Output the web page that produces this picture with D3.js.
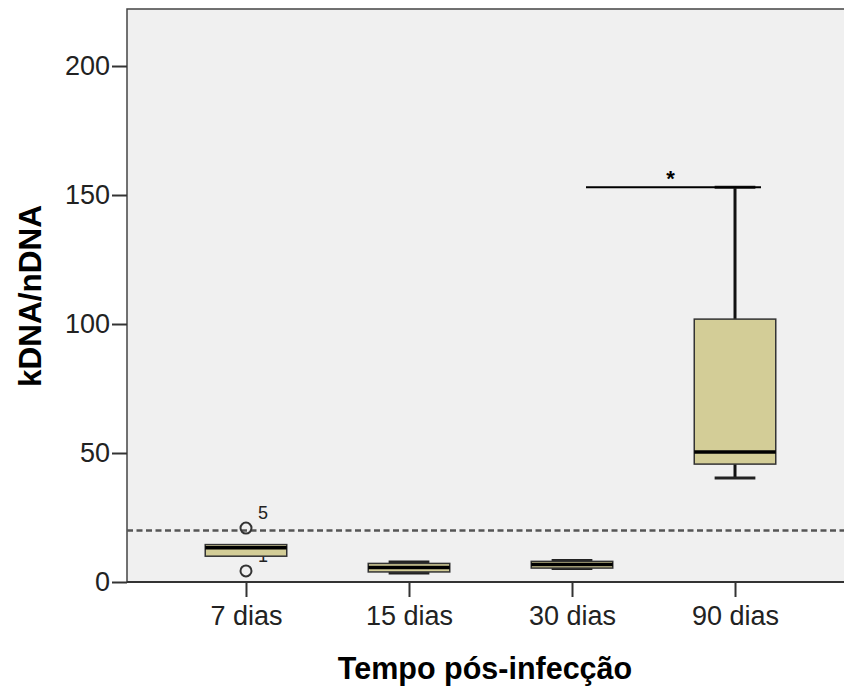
<!DOCTYPE html>
<html>
<head>
<meta charset="utf-8">
<script src="https://cdn.jsdelivr.net/npm/d3@7"></script>
<style>
  body { margin: 0; background: #fff; }
  text { font-family: "Liberation Sans", Arial, sans-serif; }
</style>
</head>
<body>
<div id="chart"></div>
<script>
var categories = ["7 dias", "15 dias", "30 dias", "90 dias"];
var whiskerLow = [10, 3.5, 5.2, 40.3];
var q1 = [10, 3.9, 5.4, 45.7];
var median = [13.3, 5.6, 6.8, 50.4];
var q3 = [14.5, 7.2, 8.0, 101.9];
var whiskerHigh = [14.5, 7.8, 8.3, 153];
var outlierCat = ["7 dias", "7 dias"];
var outlierVal = [20.9, 4.3];
var outlierLabel = ["5", "1"];
var yTicks = [0, 50, 100, 150, 200];
var refValue = 20;
var sigValue = 153;

var W = 844, H = 688;
var margin = {top: 9, right: -10, bottom: 106, left: 127};
var width = W - margin.left - margin.right, height = H - margin.top - margin.bottom;

var svg = d3.select('#chart').append('svg')
    .attr('width', W).attr('height', H);

var graph = svg.append('g')
    .attr('transform', 'translate(' + margin.left + ', ' + margin.top + ')');

var yS = d3.scaleLinear().domain([0, 222.1]).range([height, 0]);
var xS = d3.scalePoint().domain(categories).range([0, width]).padding(0.73);
var step = xS.step(), boxW = step * 0.5, capW = step * 0.25;

graph.append('rect')
    .attr('width', width).attr('height', height)
    .attr('fill', '#f0f0f0').attr('stroke', '#444').attr('stroke-width', 1.5);

// reference line
graph.append('line')
    .attr('x1', 0).attr('x2', width)
    .attr('y1', yS(refValue)).attr('y2', yS(refValue))
    .attr('stroke', '#555').attr('stroke-width', 2.5).attr('stroke-dasharray', '6,3.5');

// outlier labels (drawn under the boxes)
graph.selectAll('.olabel').data(outlierVal).enter().append('text')
    .attr('x', function (d, i) { return xS(outlierCat[i]) + 17 })
    .attr('y', function (d) { return yS(d) - 9 })
    .attr('text-anchor', 'middle')
    .attr('font-size', 18).attr('fill', '#222')
    .text(function (d, i) { return outlierLabel[i] });

var boxes = graph.selectAll('.box').data(categories).enter().append('g');

// whiskers
boxes.each(function (c, i) {
    var g = d3.select(this), cx = xS(c);
    [[whiskerLow[i], q1[i]], [whiskerHigh[i], q3[i]]].forEach(function (p) {
        if (p[0] === p[1]) return;
        g.append('line').attr('x1', cx).attr('x2', cx)
            .attr('y1', yS(p[0])).attr('y2', yS(p[1]))
            .attr('stroke', '#111').attr('stroke-width', 3);
        g.append('line').attr('x1', cx - capW / 2).attr('x2', cx + capW / 2)
            .attr('y1', yS(p[0])).attr('y2', yS(p[0]))
            .attr('stroke', '#222').attr('stroke-width', 3);
    });
});

boxes.append('rect')
    .attr('x', function (c) { return xS(c) - boxW / 2 })
    .attr('width', boxW)
    .attr('y', function (c, i) { return yS(q3[i]) })
    .attr('height', function (c, i) { return yS(q1[i]) - yS(q3[i]) })
    .attr('fill', '#d3cd97').attr('stroke', '#333').attr('stroke-width', 1.5);

boxes.append('line')
    .attr('x1', function (c) { return xS(c) - boxW / 2 })
    .attr('x2', function (c) { return xS(c) + boxW / 2 })
    .attr('y1', function (c, i) { return yS(median[i]) })
    .attr('y2', function (c, i) { return yS(median[i]) })
    .attr('stroke', '#000').attr('stroke-width', 3.5);

// outliers
graph.selectAll('.outlier').data(outlierVal).enter().append('circle')
    .attr('cx', function (d, i) { return xS(outlierCat[i]) })
    .attr('cy', function (d) { return yS(d) })
    .attr('r', 5.5)
    .attr('fill', 'none').attr('stroke', '#333').attr('stroke-width', 2);

// significance bar
var sx1 = xS("30 dias") + 14, sx2 = xS("90 dias") + 26;
graph.append('line')
    .attr('x1', sx1).attr('x2', sx2)
    .attr('y1', yS(sigValue)).attr('y2', yS(sigValue))
    .attr('stroke', '#000').attr('stroke-width', 2);
graph.append('text')
    .attr('x', (sx1 + sx2) / 2 - 3).attr('y', yS(sigValue) - 1)
    .attr('text-anchor', 'middle').attr('font-size', 22).attr('font-weight', 'bold')
    .text('*');

// axes
var yAxis = graph.append('g')
    .call(d3.axisLeft(yS).tickValues(yTicks).tickSize(15).tickPadding(2).tickFormat(d3.format('d')));
yAxis.select('.domain').remove();
yAxis.selectAll('line').attr('stroke', '#333').attr('stroke-width', 2);
yAxis.selectAll('text').attr('font-size', 27).attr('fill', '#222')
    .attr('font-family', '"Liberation Sans", Arial, sans-serif');

var xAxis = graph.append('g')
    .attr('transform', 'translate(0, ' + height + ')')
    .call(d3.axisBottom(xS).tickSize(15).tickPadding(9));
xAxis.select('.domain').attr('stroke', '#333').attr('stroke-width', 2).attr('d', 'M0,0H' + width);
xAxis.selectAll('line').attr('stroke', '#333').attr('stroke-width', 2);
xAxis.selectAll('text').attr('font-size', 27).attr('fill', '#222')
    .attr('font-family', '"Liberation Sans", Arial, sans-serif');

svg.append('text')
    .attr('x', 485).attr('y', 679)
    .attr('text-anchor', 'middle').attr('font-size', 30.5).attr('font-weight', 'bold')
    .text('Tempo pós-infecção');

svg.append('text')
    .attr('transform', 'translate(41, 296) rotate(-90)')
    .attr('text-anchor', 'middle').attr('font-size', 31.5).attr('font-weight', 'bold')
    .text('kDNA/nDNA');
</script>
</body>
</html>
